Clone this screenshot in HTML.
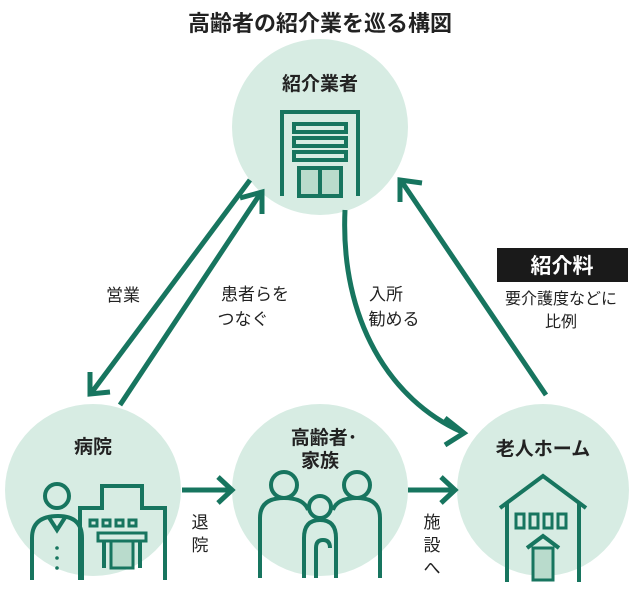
<!DOCTYPE html>
<html><head><meta charset="utf-8"><style>
body{margin:0;background:#fff;}
svg{display:block;}
text{font-family:"Liberation Sans","Noto Sans CJK JP",sans-serif;}
</style></head><body>
<svg width="640" height="589" viewBox="0 0 640 589">
<defs>
<marker id="ah" markerWidth="10" markerHeight="10" refX="7" refY="5" orient="auto" markerUnits="userSpaceOnUse" viewBox="0 0 10 10">
</marker>
</defs>
<text x="320" y="31" font-size="22" font-weight="bold" text-anchor="middle" fill="#222">高齢者の紹介業を巡る構図</text>
<g fill="#d7ece3">
<circle cx="320" cy="127" r="88"/>
<ellipse cx="93" cy="490" rx="88" ry="86"/>
<ellipse cx="320" cy="490" rx="88" ry="86"/>
<ellipse cx="543" cy="490" rx="86" ry="86"/>
</g>
<g stroke="#17755f" stroke-width="5" fill="none" stroke-linecap="butt">
<!-- arrows -->
<line x1="250" y1="180" x2="92" y2="392"/>
<polyline points="90,372 90,394 110,392"/>
<line x1="120" y1="405" x2="260" y2="194"/>
<polyline points="240,198 262,192 262,214"/>
<path d="M345,210 C340,320 390,400 462,432"/>
<polyline points="445,418 464,433 445,445"/>
<line x1="546" y1="395" x2="402" y2="182"/>
<polyline points="400,202 400,180 422,183"/>
<line x1="182" y1="490" x2="232" y2="490"/>
<polyline points="218,477 232,490 218,503"/>
<line x1="408" y1="490" x2="455" y2="490"/>
<polyline points="441,477 455,490 441,503"/>
</g>
<g stroke="#17755f" stroke-width="4" fill="none">
<!-- building top -->
<polyline points="282,196 282,112 358,112 358,196"/>
<rect x="294" y="124" width="52" height="8"/>
<rect x="294" y="138" width="52" height="8"/>
<rect x="294" y="152" width="52" height="8"/>
<rect x="299" y="168" width="42" height="28" fill="#b9dbcc"/>
<line x1="320" y1="168" x2="320" y2="196"/>
<!-- hospital -->
<path d="M32,580 V538 Q32,516 58,516 Q82,516 82,538 V580"/>
<circle cx="57" cy="496" r="12"/>
<path d="M48,516 L57,530 L66,516"/>
<polyline points="80,580 80,508 102,508 102,486 142,486 142,508 165,508 165,580"/>
<rect x="90" y="520" width="7" height="6" stroke-width="3"/>
<rect x="103" y="520" width="7" height="6" stroke-width="3"/>
<rect x="116" y="520" width="7" height="6" stroke-width="3"/>
<rect x="129" y="520" width="7" height="6" stroke-width="3"/>
<rect x="98" y="533" width="48" height="8" stroke-width="3"/>
<line x1="104" y1="541" x2="104" y2="568"/>
<line x1="140" y1="541" x2="140" y2="568"/>
<rect x="111" y="541" width="22" height="27" fill="#b9dbcc" stroke-width="3"/>
<!-- family -->
<circle cx="284" cy="485" r="13"/>
<path d="M260,578 V518 Q260,498 284,498 Q304,498 308,510"/>
<circle cx="357" cy="485" r="13"/>
<path d="M380,578 V518 Q380,498 357,498 Q337,498 333,510"/>
<circle cx="320" cy="507" r="11"/>
<path d="M304,578 V538 Q304,520 320,520 Q336,520 336,538 V578"/>
<path d="M316,578 V548 Q316,540 323,540 Q330,540 330,548"/>
<!-- home -->
<polyline points="500,508 543,476 586,508"/>
<line x1="507" y1="503" x2="507" y2="582"/>
<line x1="579" y1="503" x2="579" y2="582"/>
<rect x="516" y="514" width="8" height="14" stroke-width="3"/>
<rect x="530" y="514" width="8" height="14" stroke-width="3"/>
<rect x="544" y="514" width="8" height="14" stroke-width="3"/>
<rect x="558" y="514" width="8" height="14" stroke-width="3"/>
<polyline points="527,548 543,536 559,548"/>
<rect x="533" y="548" width="20" height="32" fill="#b9dbcc" stroke-width="3"/>
</g>
<g fill="#17755f"><circle cx="57" cy="548" r="1.8"/><circle cx="57" cy="558" r="1.8"/><circle cx="57" cy="568" r="1.8"/></g>
<g font-weight="bold" fill="#222" font-size="19" text-anchor="middle">
<text x="320" y="90">紹介業者</text>
<text x="93" y="453">病院</text>
<text x="324" y="444">高齢者･</text>
<text x="320" y="467">家族</text>
<text x="543" y="455">老人ホーム</text>
</g>
<g fill="#222" font-size="17" text-anchor="middle">
<text x="123" y="301">営業</text>
<text x="255" y="300">患者らを</text>
<text x="243" y="325">つなぐ</text>
<text x="386" y="300">入所</text>
<text x="394" y="325">勧める</text>
<text x="200" y="528">退</text>
<text x="200" y="551">院</text>
<text x="432" y="528">施</text>
<text x="432" y="551">設</text>
<text x="432" y="574">へ</text>
<text x="561" y="304" font-size="16">要介護度などに</text>
<text x="561" y="327" font-size="16">比例</text>
</g>
<rect x="497" y="248" width="131" height="34" fill="#1a1a1a"/>
<text x="562" y="273" font-size="21" font-weight="bold" fill="#fff" text-anchor="middle">紹介料</text>
</svg>
</body></html>
